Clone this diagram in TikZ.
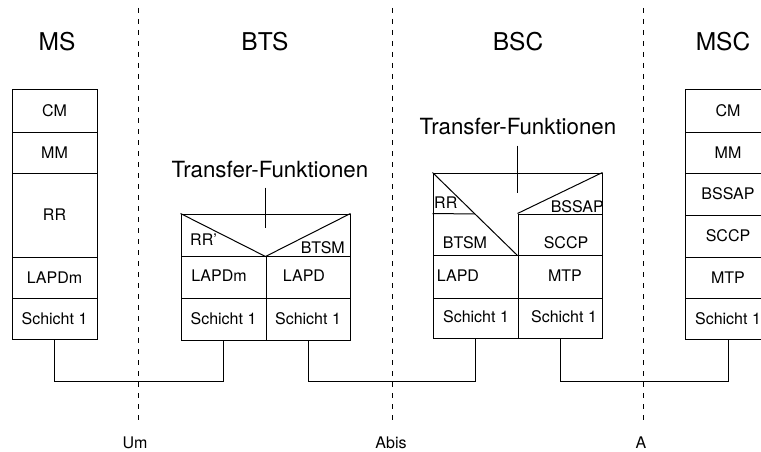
\documentclass[tikz,border=0pt]{standalone}
\usepackage{fontspec}
\setmainfont{TeX Gyre Heros}
\usetikzlibrary{calc}
\begin{document}
\begin{tikzpicture}[x=1pt,y=-1pt,
  box/.style={draw, line width=1pt, inner sep=0pt, font=\fontsize{16}{17}\selectfont},
  lbl/.style={inner sep=0pt, font=\fontsize{16}{17}\selectfont},
  title/.style={inner sep=0pt, font=\fontsize{24.5}{26}\selectfont},
  tf/.style={inner sep=0pt, font=\fontsize{22.3}{24}\selectfont},
  iface/.style={inner sep=0pt, font=\fontsize{16}{17}\selectfont},
  sep/.style={line width=0.9pt, dash pattern=on 5pt off 6pt},
  wire/.style={line width=1pt},
]
\clip (0,0) rectangle (761,452);

% titles
\node[title] (tMS)  at (57,42)  {MS};
\node[title] (tBTS) at (265,42) {BTS};
\node[title] (tBSC) at (518,42) {BSC};
\node[title] (tMSC) at (723,42) {MSC};

% interface separators
\coordinate (d1t) at (138,8);  \coordinate (d1b) at (138,420);
\coordinate (d2t) at (392,8);  \coordinate (d2b) at (392,420);
\coordinate (d3t) at (643,8);  \coordinate (d3b) at (643,420);
\draw[sep] (d1t) -- (d1b);
\draw[sep] (d2t) -- (d2b);
\draw[sep] (d3t) -- (d3b);
\node[iface] (iUm)   at (135,443) {Um};
\node[iface] (iAbis) at (391,443) {Abis};
\node[iface] (iA)    at (641,443) {A};

% MS stack
\node[box, minimum width=85pt, minimum height=42pt] (msCM) at (54.5,111)   {CM};
\node[box, minimum width=85pt, minimum height=41pt] (msMM) at (54.5,152.5) {MM};
\node[box, minimum width=85pt, minimum height=84pt] (msRR) at (54.5,215)   {RR};
\node[box, minimum width=85pt, minimum height=41pt] (msL2) at (54.5,277.5) {LAPDm};
\node[box, minimum width=85pt, minimum height=41pt] (msS1) at (54.5,318.5) {Schicht 1};

% BTS stack
\node[box, minimum width=169pt, minimum height=42pt] (btsTop) at (265.5,235) {};
\draw[wire] (btsTop.north west) -- (btsTop.south) -- (btsTop.north east);
\node[lbl, anchor=west] (btsRR) at (190,240) {RR'};
\node[lbl, anchor=east] (btsBTSM) at (345,248) {BTSM};
\node[box, minimum width=85pt, minimum height=42pt] (btsL2a) at (223.5,277) {};
\node[box, minimum width=84pt, minimum height=42pt] (btsL2b) at (308,277)   {};
\node[lbl] (btsL2at) at (219,276) {LAPDm};
\node[lbl] (btsL2bt) at (304,276) {LAPD};
\node[box, minimum width=85pt, minimum height=42pt] (btsS1a) at (223.5,319) {Schicht 1};
\node[box, minimum width=84pt, minimum height=42pt] (btsS1b) at (308,319)   {Schicht 1};
\node[tf] (tf1) at (270,170) {Transfer-Funktionen};
\draw[wire] ($(btsTop.north)+(0,-26)$) -- ($(btsTop.north)+(0,14)$);

% BSC stack
\node[box, minimum width=169pt, minimum height=82pt] (bscTop) at (517.5,214) {};
\node[box, minimum width=84pt, minimum height=41pt] (bscSCCP) at (560,234.5) {};
\draw[wire] (bscTop.north west) -- (bscTop.south);
\draw[wire] (bscTop.north east) -- (bscSCCP.north west);
\draw[wire] (bscTop.west |- bscSCCP.north) -- ($(bscTop.north west)!0.5!(bscTop.south)$);
\node[box, minimum width=85pt, minimum height=43pt] (bscL2a) at (475.5,276.5) {};
\node[box, minimum width=84pt, minimum height=43pt] (bscL2b) at (560,276.5) {};
\node[box, minimum width=85pt, minimum height=40pt] (bscS1a) at (475.5,318) {};
\node[box, minimum width=84pt, minimum height=40pt] (bscS1b) at (560,318) {};
\node[lbl, anchor=west] (bscRRt) at (434,203) {RR};
\node[lbl, anchor=east] (bscBSSAPt) at (604,207) {BSSAP};
\node[lbl] (bscBTSMt) at (465,243) {BTSM};
\node[lbl] (bscSCCPt) at (566,243) {SCCP};
\node[lbl] (bscLAPDt) at (458,276) {LAPD};
\node[lbl] (bscMTPt)  at (565,276) {MTP};
\node[lbl] (bscS1at)  at (476,317) {Schicht 1};
\node[lbl] (bscS1bt)  at (564,317) {Schicht 1};
\node[tf] (tf2) at (518,127) {Transfer-Funktionen};
\draw[wire] ($(bscTop.north)+(0,-27)$) -- ($(bscTop.north)+(0,20)$);

% MSC stack
\node[box, minimum width=85pt, minimum height=42pt] (mscCM)    at (728,111)   {CM};
\node[box, minimum width=85pt, minimum height=41pt] (mscMM)    at (728,152.5) {MM};
\node[box, minimum width=85pt, minimum height=42pt] (mscBSSAP) at (728,194)   {BSSAP};
\node[box, minimum width=85pt, minimum height=42pt] (mscSCCP)  at (728,236)   {SCCP};
\node[box, minimum width=85pt, minimum height=41pt] (mscMTP)   at (728,277.5) {MTP};
\node[box, minimum width=85pt, minimum height=41pt] (mscS1)    at (728,318.5) {Schicht 1};

% physical links
\draw[wire] (msS1.south) -- ++(0,42) -| (btsS1a.south);
\draw[wire] (btsS1b.south) -- ++(0,41) -| (bscS1a.south);
\draw[wire] (bscS1b.south) -- ++(0,43) -| (mscS1.south);
\end{tikzpicture}
\end{document}
